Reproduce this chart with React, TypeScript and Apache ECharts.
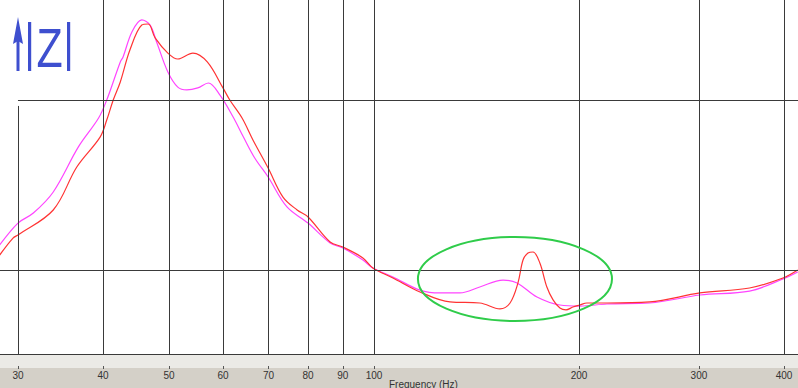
import React, { useEffect, useRef } from "react";
import * as echarts from "echarts";

// Frequency tick labels (Hz)
const xTickValues = [30, 40, 50, 60, 70, 80, 90, 100, 200, 300, 400];
const fullGridFreqs = [40, 50, 60, 70, 80, 90, 100, 200, 300, 400];
const hGridValues = [10, 20];

// Magenta curve |Z| (Ohm) vs frequency (Hz)
const magentaFreq = [28.2, 30, 31.6, 33.8, 36.8, 39.4, 40.5, 42.4, 42.8, 44.1, 45.6, 46.9, 48.0, 49.8, 51.5, 53.1, 55.1, 57.1, 59.4, 62.1, 64.3, 66.8, 69.9, 74.5, 80, 86.2, 90, 96.3, 99.6, 106.6, 116.8, 125, 133.7, 143, 154.7, 162.2, 173.5, 187.5, 200.6, 219.8, 254, 301, 356, 398.6, 419];
const magentaZ = [11.47, 12.76, 13.35, 14.59, 17.24, 18.94, 20.0, 22.24, 22.53, 24.0, 24.71, 24.41, 23.35, 21.65, 20.76, 20.59, 20.71, 21.0, 20.29, 19.0, 17.82, 16.59, 15.47, 13.71, 12.76, 11.59, 11.29, 10.59, 10.12, 9.59, 8.82, 8.65, 8.65, 9.0, 9.41, 9.24, 8.41, 7.94, 7.88, 8.0, 8.06, 8.53, 8.76, 9.47, 9.88];

// Red curve |Z| (Ohm) vs frequency (Hz)
const redFreq = [28.2, 29.5, 30, 33.8, 36.6, 39.6, 40.5, 41.4, 42.4, 43.8, 45.6, 46.6, 47.7, 49.8, 51.5, 54.2, 56.9, 60, 61.4, 64.0, 66.4, 69.9, 73.5, 77.1, 80, 86.2, 90, 96.3, 99.6, 106.6, 116.8, 129.3, 143, 153.1, 158.4, 162.7, 165.5, 168.3, 171.2, 175.2, 179.4, 183.2, 187.5, 191.4, 195.9, 200.6, 205.4, 219.8, 254, 301, 356, 398.6, 419];
const redZ = [10.88, 11.88, 12.06, 13.53, 16.06, 17.82, 18.82, 20.0, 21.06, 22.94, 24.41, 24.47, 23.65, 22.76, 22.41, 22.76, 22.24, 20.71, 20.0, 18.94, 17.65, 16.0, 14.29, 13.53, 13.12, 11.65, 11.35, 10.71, 10.12, 9.53, 8.71, 8.12, 8.06, 7.71, 8.06, 9.24, 10.59, 11.0, 11.06, 10.41, 9.0, 8.24, 7.76, 7.65, 7.82, 7.94, 8.06, 8.06, 8.12, 8.65, 8.94, 9.53, 10.0];

// Highlighted region (ellipse bounds in data units)
const ellipseFreqRange = [116, 223.6];
const ellipseZRange = [7.0, 11.94];

const X_MIN = 28.23;
const X_MAX = 419.4;
const Y_MIN = 5.0588;
const Y_MAX = 25.882;

export default function App() {
  const ref = useRef<HTMLDivElement>(null);

  useEffect(() => {
    if (!ref.current) return;
    const chart = echarts.init(ref.current, null, { renderer: "svg" });

    const toPairs = (xs: number[], ys: number[]) => xs.map((x, i) => [x, ys[i]]);

    const gridLineStyle = { color: "#3a3a3a", width: 1, type: "solid" as const };

    const markLineData: any[] = [
      ...fullGridFreqs.map((f) => ({ xAxis: f })),
      { yAxis: hGridValues[0] },
      [{ coord: [30, hGridValues[1]] }, { coord: [X_MAX, hGridValues[1]] }],
      [{ coord: [30, 19.65] }, { coord: [30, Y_MIN] }],
    ];

    const option: any = {
      animation: false,
      backgroundColor: "#ffffff",
      grid: { left: 0, right: 0, top: 0, bottom: 34, containLabel: false },
      xAxis: [
        {
          type: "log",
          logBase: 10,
          min: X_MIN,
          max: X_MAX,
          position: "bottom",
          axisLine: { show: true, onZero: false, lineStyle: { color: "#3a3a3a", width: 1 } },
          axisTick: { show: false },
          axisLabel: { show: false },
          splitLine: { show: false },
        },
        {
          type: "log",
          logBase: 10,
          min: X_MIN,
          max: X_MAX,
          position: "bottom",
          offset: 12,
          axisLine: { show: false },
          axisTick: {
            show: true,
            length: 3,
            customValues: xTickValues,
            lineStyle: { color: "#555", width: 1 },
          },
          axisLabel: {
            show: true,
            customValues: xTickValues,
            margin: 4,
            color: "#333",
            fontSize: 10,
            lineHeight: 10,
            fontFamily: "Liberation Sans, Arial, sans-serif",
            formatter: (v: number) => String(Math.round(v)),
          },
          splitLine: { show: false },
        },
      ],
      yAxis: {
        type: "value",
        min: Y_MIN,
        max: Y_MAX,
        show: false,
        splitLine: { show: false },
      },
      series: [
        {
          name: "grid",
          type: "line",
          data: [],
          z: 1,
          silent: true,
          markLine: {
            silent: true,
            symbol: "none",
            label: { show: false },
            lineStyle: gridLineStyle,
            emphasis: { disabled: true },
            data: markLineData,
          },
        },
        {
          name: "magenta",
          type: "line",
          data: toPairs(magentaFreq, magentaZ),
          showSymbol: false,
          smooth: 0.35,
          z: 3,
          lineStyle: { color: "#ff44ff", width: 1.2 },
          itemStyle: { color: "#ff44ff" },
        },
        {
          name: "red",
          type: "line",
          data: toPairs(redFreq, redZ),
          showSymbol: false,
          smooth: 0.35,
          z: 4,
          lineStyle: { color: "#ff3333", width: 1.2 },
          itemStyle: { color: "#ff3333" },
        },
      ],
      graphic: [
        { id: "bgLight", type: "rect", z: -1, shape: { x: 0, y: 355, width: 798, height: 13 }, style: { fill: "#ebeae6" } },
        { id: "bgDark", type: "rect", z: -1, shape: { x: 0, y: 368, width: 798, height: 20 }, style: { fill: "#d4d0c8" } },
        {
          id: "xname",
          type: "text",
          x: 389,
          y: 384,
          style: {
            text: "Frequency (Hz)",
            fontSize: 10,
            fontFamily: "Liberation Sans, Arial, sans-serif",
            fill: "#333",
            verticalAlign: "middle",
            align: "left",
          },
        },
        { id: "arrowShaft", type: "rect", shape: { x: 16.5, y: 40, width: 3, height: 31 }, style: { fill: "#3e4fcf" } },
        { id: "arrowHead", type: "polygon", shape: { points: [[13, 44], [18, 17], [23, 44], [18, 41]] }, style: { fill: "#3e4fcf" } },
        { id: "barL", type: "rect", shape: { x: 28, y: 22, width: 3.2, height: 49 }, style: { fill: "#3e4fcf" } },
        { id: "barR", type: "rect", shape: { x: 67, y: 22, width: 3.2, height: 49 }, style: { fill: "#3e4fcf" } },
        {
          id: "zText",
          type: "text",
          x: 49.5,
          y: 47,
          scaleX: 0.78,
          style: {
            text: "Z",
            fontSize: 55,
            fontFamily: "Liberation Sans, Arial, sans-serif",
            fill: "#3e4fcf",
            align: "center",
            verticalAlign: "middle",
          },
        },
      ],
    };

    chart.setOption(option);

    const p1 = chart.convertToPixel({ gridIndex: 0 }, [ellipseFreqRange[0], ellipseZRange[1]]) as number[];
    const p2 = chart.convertToPixel({ gridIndex: 0 }, [ellipseFreqRange[1], ellipseZRange[0]]) as number[];
    if (p1 && p2) {
      chart.setOption({
        graphic: [
          {
            id: "highlight",
            type: "ellipse",
            z: 10,
            shape: {
              cx: (p1[0] + p2[0]) / 2,
              cy: (p1[1] + p2[1]) / 2,
              rx: Math.abs(p2[0] - p1[0]) / 2,
              ry: Math.abs(p2[1] - p1[1]) / 2,
            },
            style: { fill: "none", stroke: "#2fcc4a", lineWidth: 2 },
          },
        ],
      });
    }

    return () => {
      chart.dispose();
    };
  }, []);

  return (
    <div
      ref={ref}
      style={{ position: "fixed", left: 0, top: 0, width: 798, height: 388 }}
    />
  );
}
